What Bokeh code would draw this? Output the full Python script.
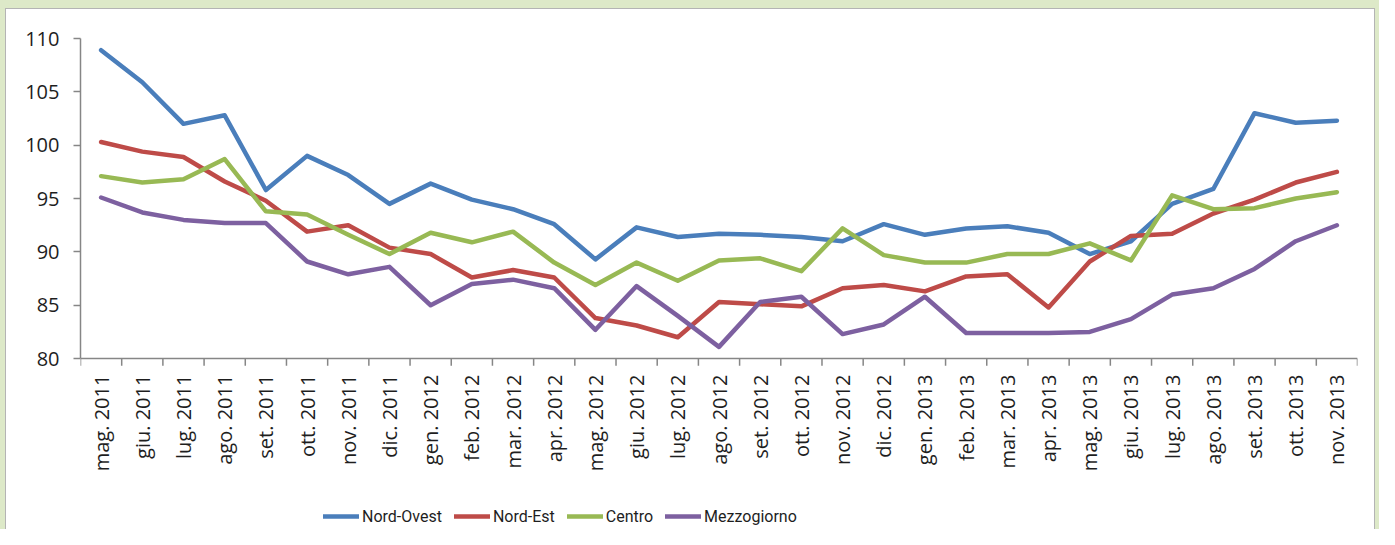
import math
from bokeh.plotting import figure
from bokeh.models import Range1d, LinearAxis, FixedTicker, Legend, LegendItem, Span
from bokeh.embed import file_html
from bokeh.resources import INLINE
from bokeh.core.properties import value

months = ["mag. 2011", "giu. 2011", "lug. 2011", "ago. 2011", "set. 2011", "ott. 2011",
          "nov. 2011", "dic. 2011", "gen. 2012", "feb. 2012", "mar. 2012", "apr. 2012",
          "mag. 2012", "giu. 2012", "lug. 2012", "ago. 2012", "set. 2012", "ott. 2012",
          "nov. 2012", "dic. 2012", "gen. 2013", "feb. 2013", "mar. 2013", "apr. 2013",
          "mag. 2013", "giu. 2013", "lug. 2013", "ago. 2013", "set. 2013", "ott. 2013",
          "nov. 2013"]

nord_ovest = [108.9, 105.9, 102.0, 102.8, 95.8, 99.0, 97.2, 94.5, 96.4, 94.9, 94.0, 92.6,
              89.3, 92.3, 91.4, 91.7, 91.6, 91.4, 91.0, 92.6, 91.6, 92.2, 92.4, 91.8,
              89.8, 91.0, 94.5, 95.9, 103.0, 102.1, 102.3]
nord_est = [100.3, 99.4, 98.9, 96.6, 94.8, 91.9, 92.5, 90.4, 89.8, 87.6, 88.3, 87.6,
            83.8, 83.1, 82.0, 85.3, 85.1, 84.9, 86.6, 86.9, 86.3, 87.7, 87.9, 84.8,
            89.1, 91.5, 91.7, 93.6, 94.9, 96.5, 97.5]
centro = [97.1, 96.5, 96.8, 98.7, 93.8, 93.5, 91.6, 89.8, 91.8, 90.9, 91.9, 89.0,
          86.9, 89.0, 87.3, 89.2, 89.4, 88.2, 92.2, 89.7, 89.0, 89.0, 89.8, 89.8,
          90.8, 89.2, 95.3, 94.0, 94.1, 95.0, 95.6]
mezzogiorno = [95.1, 93.7, 93.0, 92.7, 92.7, 89.1, 87.9, 88.6, 85.0, 87.0, 87.4, 86.6,
               82.7, 86.8, 84.0, 81.1, 85.3, 85.8, 82.3, 83.2, 85.8, 82.4, 82.4, 82.4,
               82.5, 83.7, 86.0, 86.6, 88.4, 91.0, 92.5]

series_names = ["Nord-Ovest", "Nord-Est", "Centro", "Mezzogiorno"]
series_values = [nord_ovest, nord_est, centro, mezzogiorno]
colors = ["#4a7ebb", "#be4b48", "#98b954", "#7d60a0"]
y_ticks = [80, 85, 90, 95, 100, 105, 110]

n = len(months)
xs = [i + 0.5 for i in range(n)]
y_min, y_max = y_ticks[0], y_ticks[-1]

# layout (screen px); whole element is 1379 x 529
s = 1379 / 1395
W, H = 1368, 520
ox, oy = 6, 9                        # content-box offset inside the element
left = round(81 * s - ox)
top = round(38 * s - oy)
right = W - round(1362 * s - ox)
plot_h = 318 * s                     # height of the 80..110 band
px_per_unit = plot_h / (y_max - y_min)
below = H - top - plot_h
y_start = y_min - below / px_per_unit

p = figure(width=W, height=H, output_backend="svg", toolbar_location=None,
           x_range=Range1d(0, n), y_range=Range1d(y_start, y_max),
           x_axis_type=None, y_axis_type=None,
           min_border_left=left, min_border_right=right, min_border_top=top,
           min_border_bottom=0)
p.styles = {"box-sizing": "content-box",
            "border-left": "5px solid #dde9c8", "border-top": "8px solid #dde9c8",
            "border-right": "4px solid #dde9c8", "padding-left": "1px",
            "padding-top": "1px", "padding-right": "1px",
            "background": "linear-gradient(#ffffff, #ffffff) content-box, #b4b4b4"}
p.background_fill_color = "white"
p.border_fill_color = "white"
p.outline_line_color = None
p.xgrid.visible = False
p.ygrid.visible = False

axis_color = "#868686"
label_color = "#1e1e1e"

yaxis = LinearAxis(ticker=FixedTicker(ticks=y_ticks), bounds=(y_min, y_max))
yaxis.axis_line_color = axis_color
yaxis.axis_line_width = 1.5
yaxis.major_tick_line_color = axis_color
yaxis.major_tick_line_width = 1.5
yaxis.major_tick_out = 7
yaxis.major_tick_in = 0
yaxis.minor_tick_line_color = None
yaxis.major_label_standoff = 14
yaxis.major_label_text_font = "Open Sans"
yaxis.major_label_text_font_size = "20px"
yaxis.major_label_text_color = label_color
p.add_layout(yaxis, "left")

# category axis drawn at y = 80
p.add_layout(Span(location=y_min, dimension="width", line_color=axis_color, line_width=1.5))
bounds = list(range(n + 1))
tick_len = 7 / px_per_unit
p.segment(x0=bounds, y0=[y_min] * len(bounds), x1=bounds,
          y1=[y_min - tick_len] * len(bounds), line_color=axis_color, line_width=1.5)
p.text(x=xs, y=[y_min] * n, text=months, angle=math.pi / 2,
       text_align="right", text_baseline="middle", y_offset=16,
       text_font=value("Open Sans"), text_font_size="20px", text_color=label_color)

items = []
for name, vals, col in zip(series_names, series_values, colors):
    r = p.line(xs, vals, line_color=col, line_width=4.5, line_join="round", line_cap="round")
    items.append(LegendItem(label=name, renderers=[r]))

legend = Legend(items=items, orientation="horizontal", location=(243, 12))
legend.padding = 0
legend.margin = 0
legend.spacing = 12
legend.glyph_width = 36
legend.glyph_height = 20
legend.label_height = 20
legend.label_standoff = 3
legend.border_line_color = None
legend.background_fill_alpha = 0
legend.label_text_font = "Roboto"
legend.label_text_font_size = "16px"
legend.label_text_color = label_color
p.add_layout(legend, "center")

html = file_html(p, INLINE)
open("out.html", "w").write(html)
